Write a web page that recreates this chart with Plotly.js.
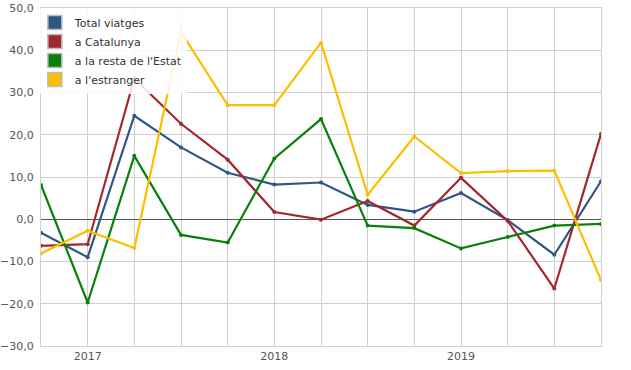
<!DOCTYPE html>
<html>
<head>
<meta charset="utf-8">
<script src="https://cdn.plot.ly/plotly-3.0.1.min.js"></script>
<style>html,body{margin:0;padding:0;background:#fff;}#chart{width:631px;height:370px;}</style>
</head>
<body>
<div id="chart"></div>
<script>
var periods = ["2016T4","2017T1","2017T2","2017T3","2017T4","2018T1","2018T2","2018T3","2018T4","2019T1","2019T2","2019T3","2019T4"];
var tickLabels = ["","2017","","","","2018","","","","2019","","",""];
var seriesNames = ["Total viatges","a Catalunya","a la resta de l'Estat","a l'estranger"];
var total = [-3.2,-9.0,24.5,17.0,11.0,8.2,8.7,3.4,1.8,6.2,-0.2,-8.4,9.0];
var catalunya = [-6.3,-5.9,33.3,22.6,14.1,1.7,-0.1,4.3,-1.5,9.8,-0.4,-16.4,20.2];
var restaEstat = [8.1,-19.7,15.0,-3.7,-5.5,14.4,23.7,-1.5,-2.1,-6.9,-4.2,-1.5,-1.1];
var estranger = [-8.1,-2.7,-6.8,44.3,27.0,27.0,41.8,5.8,19.6,10.9,11.4,11.5,-14.4];
var colors = ["#2f5783","#a3282c","#0a800a","#fcbf00"];

var xIdx = periods.map(function(p,i){return i;});
var allSeries = [total, catalunya, restaEstat, estranger];
var traces = [];
allSeries.forEach(function(s,i){
  traces.push({
    x: xIdx, y: s, type: 'scatter', mode: 'lines+markers',
    line: {color: colors[i], width: 2.2},
    marker: {color: colors[i], size: 4},
    showlegend: false, hoverinfo: 'y', name: seriesNames[i]
  });
});
seriesNames.forEach(function(n,i){
  traces.push({
    x: [null], y: [null], type: 'scatter', mode: 'markers', name: n,
    marker: {symbol: 'square', size: 14, color: colors[i], line: {color: '#bbbbbb', width: 1.5}},
    showlegend: true
  });
});

var layout = {
  width: 631, height: 370,
  margin: {l: 41, r: 30, t: 8, b: 24},
  paper_bgcolor: '#fff', plot_bgcolor: '#fff',
  separators: ',.',
  font: {family: 'DejaVu Sans, Verdana, sans-serif', size: 11, color: '#555'},
  showlegend: true,
  legend: {x: -0.011, y: 1.0, xanchor: 'left', yanchor: 'top', bgcolor: 'rgba(255,255,255,0.85)',
           font: {size: 11, color: '#333'}, tracegroupgap: 0, itemwidth: 30},
  xaxis: {
    range: [0, 12], tickmode: 'array', tickvals: xIdx, ticktext: tickLabels,
    showgrid: true, gridcolor: '#d0d0d0', gridwidth: 1, zeroline: false,
    showline: true, linecolor: '#d0d0d0', mirror: true, ticks: '', fixedrange: true,
    tickfont: {size: 11, color: '#555'}
  },
  yaxis: {
    range: [-30, 50], dtick: 10, tick0: 0, tickformat: '.1f',
    showgrid: true, gridcolor: '#d0d0d0', gridwidth: 1,
    zeroline: true, zerolinecolor: '#555', zerolinewidth: 1,
    showline: true, linecolor: '#d0d0d0', mirror: true, ticks: '', ticklabelstandoff: 4,
    tickfont: {size: 11, color: '#555'}
  }
};
Plotly.newPlot('chart', traces, layout, {displayModeBar: false, staticPlot: true});
</script>
</body>
</html>
